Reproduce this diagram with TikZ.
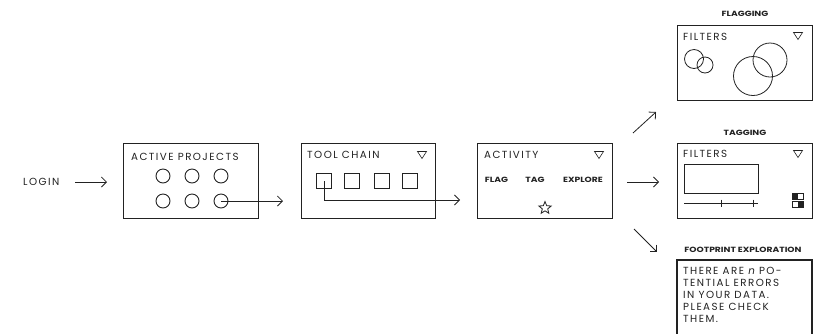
\documentclass[tikz,border=0pt]{standalone}
\usepackage{fontspec}
\usetikzlibrary{arrows.meta,shapes.geometric}
\newfontfamily\uifont[LetterSpace=14]{Poppins}
\newfontfamily\lblfont[FakeStretch=1.22]{Poppins}
\definecolor{ink}{HTML}{222222}
\tikzset{
  box/.style={draw=ink, line width=1.1pt},
  ttl/.style={anchor=west, inner sep=0, font=\uifont\fontsize{10.3}{12}\selectfont, text=ink},
  lbl/.style={inner sep=0, font=\lblfont\bfseries\fontsize{7.5}{9}\selectfont, text=ink},
  dot/.style={draw=ink, line width=0.9pt, circle, minimum size=14pt, inner sep=0},
  sq/.style={draw=ink, line width=0.9pt, minimum size=15pt, inner sep=0},
  arr/.style={draw=ink, line width=0.8pt, -{Straight Barb[length=5pt,width=10pt]}},
  ln/.style={draw=ink, line width=0.8pt},
  tri/.style={draw=ink, line width=0.6pt},
}
\newcommand{\ddown}[2]{\draw[tri] (#1-4.5,#2-3.5) -- (#1+4.5,#2-3.5) -- (#1,#2+3.5) -- cycle;}
\begin{document}
\begin{tikzpicture}[x=1pt,y=-1pt]
\useasboundingbox (0,0) rectangle (818,333);
% login
\node[ttl] (login) at (23,182) {LOGIN};
\coordinate (a1e) at (107,182);
\draw[arr] (75,182) -- (a1e);
% active projects
\node[box, minimum width=135pt, minimum height=75pt, anchor=north west, inner sep=0] (ap) at (123,143) {};
\node[ttl] (apt) at (131,157) {ACTIVE PROJECTS};
\node[dot] (c1) at (163,176) {};
\node[dot] (c2) at (192,176) {};
\node[dot] (c3) at (221,176) {};
\node[dot] (c4) at (163,201) {};
\node[dot] (c5) at (192,201) {};
\node[dot] (c6) at (221,201) {};
\coordinate (a2e) at (283,201);
\draw[arr] (c6.center) -- (a2e);
% tool chain
\node[box, minimum width=134pt, minimum height=75pt, anchor=north west, inner sep=0] (tc) at (301,143) {};
\node[ttl] (tct) at (307,155) {TOOL CHAIN};
\ddown{422}{155}
\node[sq] (s1) at (324,181) {};
\node[sq] (s2) at (352,181) {};
\node[sq] (s3) at (382,181) {};
\node[sq] (s4) at (410,181) {};
\coordinate (a3e) at (460,200);
\draw[arr] (s1.center) |- (a3e);
% activity
\node[box, minimum width=135pt, minimum height=75pt, anchor=north west, inner sep=0] (act) at (477,143) {};
\node[ttl] (actt) at (484,155) {ACTIVITY};
\ddown{599}{155}
\node[lbl] (flag) at (496.5,180) {FLAG};
\node[lbl] (tag) at (535,180) {TAG};
\node[lbl] (explore) at (583,180) {EXPLORE};
\node[star, star points=5, star point ratio=2.3, draw=ink, line width=0.8pt, minimum size=13pt, inner sep=0] (star) at (545,208) {};
% arrows to right column
\coordinate (b1s) at (633,133); \coordinate (b1e) at (656,112);
\coordinate (b2s) at (627,182); \coordinate (b2e) at (659,182);
\coordinate (b3s) at (634,229); \coordinate (b3e) at (657,252);
\draw[arr] (b1s) -- (b1e);
\draw[arr] (b2s) -- (b2e);
\draw[arr] (b3s) -- (b3e);
% flagging
\node[lbl] (flgl) at (745,14) {FLAGGING};
\node[box, minimum width=135pt, minimum height=75pt, anchor=north west, inner sep=0] (fb) at (677,25) {};
\node[ttl] (fbt) at (683,37) {FILTERS};
\ddown{798}{36}
\draw[ln] (694,59) circle (9.5);
\draw[ln] (705,65) circle (8);
\draw[ln] (753,76) circle (19.5);
\draw[ln] (770,60) circle (17);
% tagging
\node[lbl] (tgl) at (745,133) {TAGGING};
\node[box, minimum width=135pt, minimum height=75pt, anchor=north west, inner sep=0] (tb) at (677,143) {};
\node[ttl] (tbt) at (683,154) {FILTERS};
\ddown{798}{154}
\node[draw=ink, line width=0.9pt, minimum width=74pt, minimum height=29pt, anchor=north west, inner sep=0] (tin) at (684,164) {};
\draw[ln] (684,203) -- (758,203);
\draw[ln] (721,199.5) -- (721,206.5);
\draw[ln] (753,199.5) -- (753,206.5);
\fill[ink] (792,193) rectangle (797.5,199);
\draw[ink, line width=0.8pt] (792,193) rectangle (803,199);
\fill[ink] (797.5,201) rectangle (803,207);
\draw[ink, line width=0.8pt] (792,201) rectangle (803,207);
% footprint exploration
\node[lbl] (fel) at (743,250) {FOOTPRINT EXPLORATION};
\draw[box] (677,345) -- (677,260) -- (812,260) -- (812,345);
\node[anchor=north west, inner sep=0, align=left, font=\uifont\fontsize{10.3}{12}\selectfont, text=ink] (fet) at (683,267)
 {THERE ARE {\itshape n} PO-\\TENTIAL ERRORS\\IN YOUR DATA.\\PLEASE CHECK\\THEM.};
\end{tikzpicture}
\end{document}
